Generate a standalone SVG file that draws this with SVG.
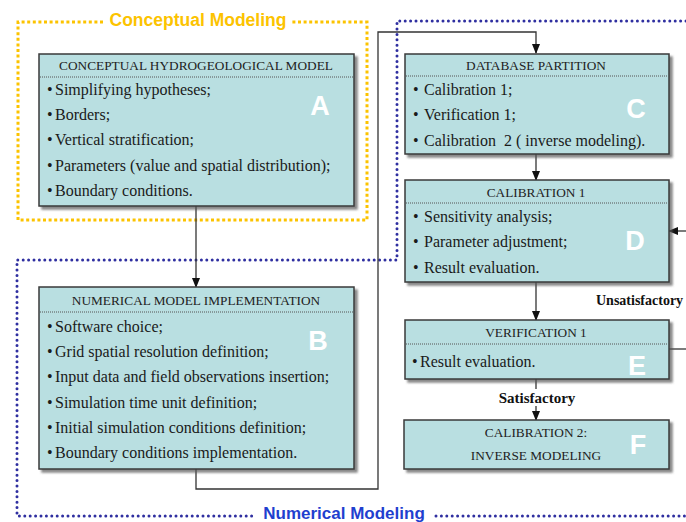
<svg xmlns="http://www.w3.org/2000/svg" width="686" height="522" viewBox="0 0 686 522">
<defs>
<marker id="ah" markerWidth="10" markerHeight="8" refX="9" refY="4" orient="auto" markerUnits="userSpaceOnUse">
<path d="M0,0 L10,4 L0,8 Z" fill="#111"/>
</marker>
<filter id="sh" x="-5%" y="-5%" width="115%" height="120%">
<feDropShadow dx="3" dy="3" stdDeviation="0.8" flood-color="#555" flood-opacity="0.7"/>
</filter>
</defs>
<style>
.box{fill:#b9dfe1;stroke:#3a3a3a;stroke-width:1.5;filter:url(#sh)}
.div{stroke:#555;stroke-width:1;stroke-dasharray:1 1}
.hd{font-family:"Liberation Serif","Times New Roman",serif;font-size:13.3px;fill:#222;text-anchor:middle}
.tx{font-family:"Liberation Serif","Times New Roman",serif;font-size:16px;fill:#1a1a1a}
.lt{font-family:"Liberation Sans",Arial,sans-serif;font-size:27px;font-weight:bold;fill:#ffffff;text-anchor:middle}
.con{fill:none;stroke:#333;stroke-width:1.3}
.lab{font-family:"Liberation Serif","Times New Roman",serif;font-size:15px;font-weight:bold;fill:#111}
.yel{fill:none;stroke:#fcc300;stroke-width:3;stroke-dasharray:3 2.6}
.blu{fill:none;stroke:#2f2fa0;stroke-width:3;stroke-dasharray:0 5.4;stroke-linecap:round}
</style>

<g id="regions">
<path class="yel" d="M103,22 L18,22 L18,220 L367,220 L367,22 L292,22"/>
<text x="198" y="26" font-family="Liberation Sans,Arial,sans-serif" font-size="17.5" font-weight="bold" fill="#fcc300" text-anchor="middle">Conceptual Modeling</text>
<path class="blu" d="M686,21 L397,21 L397,260 L17,260 L17,516 L252,516"/>
<path class="blu" d="M436,516 L686,516"/>
<text x="344" y="519" font-family="Liberation Sans,Arial,sans-serif" font-size="17" font-weight="bold" fill="#1f3fcf" text-anchor="middle">Numerical Modeling</text>
</g>

<g id="connectors">
<path class="con" d="M196,206 L196,287" marker-end="url(#ah)"/>
<path class="con" d="M196,469 L196,489 L378,489 L378,32 L536,32 L536,53" marker-end="url(#ah)"/>
<path class="con" d="M536,154 L536,180" marker-end="url(#ah)"/>
<path class="con" d="M536,282 L536,320" marker-end="url(#ah)"/>
<path class="con" d="M536,379 L536,389"/>
<path class="con" d="M536,406 L536,420" marker-end="url(#ah)"/>
<path class="con" d="M669,349 L686,349"/>
<path class="con" d="M686,231 L669,231" marker-end="url(#ah)"/>
<text class="lab" x="596" y="305" style="font-size:14px">Unsatisfactory</text>
<text class="lab" x="537" y="403" text-anchor="middle">Satisfactory</text>
</g>

<g id="A">
<rect class="box" x="39" y="54" width="315" height="152"/>
<line class="div" x1="40" y1="77" x2="353" y2="77"/>
<text class="hd" x="196" y="70">CONCEPTUAL HYDROGEOLOGICAL MODEL</text>
<text class="tx" y="95"><tspan x="47">•</tspan><tspan x="55">Simplifying hypotheses;</tspan></text>
<text class="tx" y="120"><tspan x="47">•</tspan><tspan x="55">Borders;</tspan></text>
<text class="tx" y="145"><tspan x="47">•</tspan><tspan x="55">Vertical stratification;</tspan></text>
<text class="tx" y="171"><tspan x="47">•</tspan><tspan x="55">Parameters (value and spatial distribution);</tspan></text>
<text class="tx" y="196"><tspan x="47">•</tspan><tspan x="55">Boundary conditions.</tspan></text>
<text class="lt" x="320" y="115">A</text>
</g>

<g id="B">
<rect class="box" x="39" y="287" width="315" height="182"/>
<line class="div" x1="40" y1="312" x2="353" y2="312"/>
<text class="hd" x="196" y="305">NUMERICAL MODEL IMPLEMENTATION</text>
<text class="tx" y="332"><tspan x="47">•</tspan><tspan x="55">Software choice;</tspan></text>
<text class="tx" y="357"><tspan x="47">•</tspan><tspan x="55">Grid spatial resolution definition;</tspan></text>
<text class="tx" y="382"><tspan x="47">•</tspan><tspan x="55">Input data and field observations insertion;</tspan></text>
<text class="tx" y="408"><tspan x="47">•</tspan><tspan x="55">Simulation time unit definition;</tspan></text>
<text class="tx" y="433"><tspan x="47">•</tspan><tspan x="55">Initial simulation conditions definition;</tspan></text>
<text class="tx" y="458"><tspan x="47">•</tspan><tspan x="55">Boundary conditions implementation.</tspan></text>
<text class="lt" x="318" y="350">B</text>
</g>

<g id="C">
<rect class="box" x="405" y="54" width="264" height="100"/>
<line class="div" x1="406" y1="76" x2="668" y2="76"/>
<text class="hd" x="536" y="70">DATABASE PARTITION</text>
<text class="tx" y="95"><tspan x="413">•</tspan><tspan x="424">Calibration 1;</tspan></text>
<text class="tx" y="120"><tspan x="413">•</tspan><tspan x="424">Verification 1;</tspan></text>
<text class="tx" y="146"><tspan x="413">•</tspan><tspan x="424">Calibration &#160;2 ( inverse modeling).</tspan></text>
<text class="lt" x="636" y="118">C</text>
</g>

<g id="D">
<rect class="box" x="405" y="180" width="264" height="102"/>
<line class="div" x1="406" y1="203" x2="668" y2="203"/>
<text class="hd" x="536" y="197">CALIBRATION 1</text>
<text class="tx" y="222"><tspan x="413">•</tspan><tspan x="424">Sensitivity analysis;</tspan></text>
<text class="tx" y="247"><tspan x="413">•</tspan><tspan x="424">Parameter adjustment;</tspan></text>
<text class="tx" y="273"><tspan x="413">•</tspan><tspan x="424">Result evaluation.</tspan></text>
<text class="lt" x="635" y="250">D</text>
</g>

<g id="E">
<rect class="box" x="405" y="320" width="264" height="59"/>
<line class="div" x1="406" y1="344" x2="668" y2="344"/>
<text class="hd" x="536" y="337">VERIFICATION 1</text>
<text class="tx" y="367"><tspan x="412">•</tspan><tspan x="420">Result evaluation.</tspan></text>
<text class="lt" x="637" y="375">E</text>
</g>

<g id="F">
<rect class="box" x="404" y="420" width="265" height="49"/>
<text class="hd" x="536" y="437">CALIBRATION 2:</text>
<text class="hd" x="536" y="460">INVERSE MODELING</text>
<text class="lt" x="638" y="454">F</text>
</g>
</svg>
